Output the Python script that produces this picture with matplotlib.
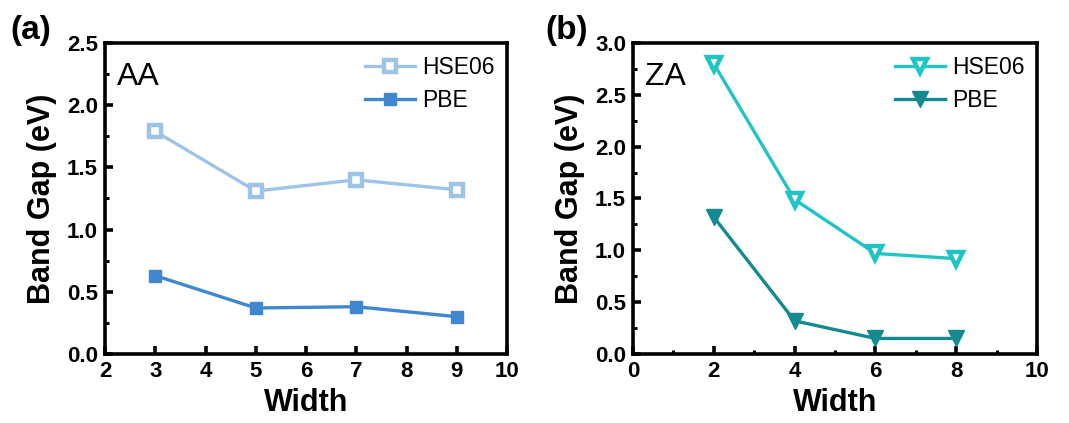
import numpy as np
import matplotlib
matplotlib.use("Agg")
import matplotlib.pyplot as plt
from matplotlib.ticker import MultipleLocator

plt.rcParams['font.family'] = ['Liberation Sans', 'DejaVu Sans']

# AA panel
aa_width = [3, 5, 7, 9]
aa_hse = [1.79, 1.31, 1.40, 1.32]
aa_pbe = [0.63, 0.37, 0.38, 0.30]

# ZA panel
za_width = [2, 4, 6, 8]
za_hse = [2.80, 1.49, 0.97, 0.92]
za_pbe = [1.32, 0.32, 0.15, 0.15]


def style_axis(ax, xlim, ylim, xmaj, xmin, ymaj, ymin):
    ax.set_xlim(xlim)
    ax.set_ylim(ylim)
    ax.xaxis.set_major_locator(MultipleLocator(xmaj))
    ax.xaxis.set_minor_locator(MultipleLocator(xmin))
    ax.yaxis.set_major_locator(MultipleLocator(ymaj))
    ax.yaxis.set_minor_locator(MultipleLocator(ymin))
    ax.yaxis.set_major_formatter(plt.FormatStrFormatter('%.1f'))
    for s in ax.spines.values():
        s.set_linewidth(2.6)
    ax.tick_params(which='major', direction='in', length=6, width=2.6,
                   labelsize=16, pad=5)
    ax.tick_params(which='minor', direction='in', length=3, width=2.2)
    for lab in ax.get_xticklabels() + ax.get_yticklabels():
        lab.set_fontweight('bold')
    ax.set_xlabel('Width', fontsize=22, fontweight='bold', labelpad=4)
    ax.set_ylabel('Band Gap (eV)', fontsize=22, fontweight='bold', labelpad=7)


def add_legend(ax):
    ax.legend(loc='upper right', frameon=False, fontsize=16.5,
              handlelength=2.2, handletextpad=0.3, borderaxespad=0.15,
              labelspacing=0.45)


fig = plt.figure(figsize=(10.69, 4.23), dpi=100)
ax1 = fig.add_axes([105 / 1069, 1 - 354 / 423, 402 / 1069, 311 / 423])
ax2 = fig.add_axes([633 / 1069, 1 - 354 / 423, 404 / 1069, 311 / 423])

c1l, c1d = '#9dc3e6', '#3f87cf'
ax1.plot(aa_width, aa_hse, '-s', color=c1l, lw=2.4, ms=8, mfc='white',
         mec=c1l, mew=3.2, label='HSE06')
ax1.plot(aa_width, aa_pbe, '-s', color=c1d, lw=2.4, ms=9, label='PBE')
style_axis(ax1, (2, 10), (0, 2.5), 1, 1, 0.5, 0.25)
ax1.text(0.03, 0.89, 'AA', transform=ax1.transAxes, fontsize=23, va='center')
add_legend(ax1)

c2l, c2d = '#20c4c4', '#138a8e'
ax2.plot(za_width, za_hse, '-v', color=c2l, lw=2.4, ms=10, mfc='white',
         mec=c2l, mew=3.2, label='HSE06')
ax2.plot(za_width, za_pbe, '-v', color=c2d, lw=2.4, ms=11, label='PBE')
style_axis(ax2, (0, 10), (0, 3.0), 2, 1, 0.5, 0.25)
ax2.text(0.03, 0.89, 'ZA', transform=ax2.transAxes, fontsize=23, va='center')
add_legend(ax2)

fig.text(10 / 1069, 1 - 30 / 423, '(a)', fontsize=24, fontweight='bold', va='center')
fig.text(545 / 1069, 1 - 30 / 423, '(b)', fontsize=24, fontweight='bold', va='center')

fig.savefig('out.png', dpi=100)
